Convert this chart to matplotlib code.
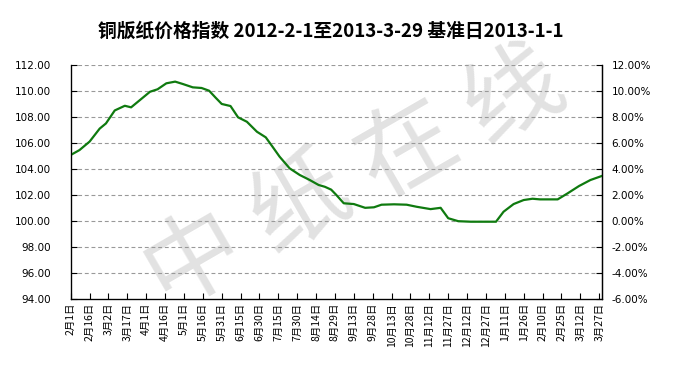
import matplotlib
matplotlib.use("Agg")
import matplotlib.pyplot as plt
import numpy as np

# ---- data ----
title_text = "铜版纸价格指数 2012-2-1至2013-3-29 基准日2013-1-1"
watermark_chars = ["中", "纸", "在", "线"]
# days since 2012-02-01
day_offsets = [0, 7, 15, 23, 28, 35, 43, 48, 55, 63, 69, 76, 83, 89, 97, 104,
               110, 115, 120, 127, 133, 140, 148, 155, 160, 166, 174, 182, 190,
               197, 202, 207, 211, 217, 225, 234, 241, 247, 257, 267, 275, 286,
               294, 300, 308, 318, 338, 344, 352, 360, 367, 373, 387, 395, 404,
               413, 422]
index_values = [105.07, 105.45, 106.1, 107.1, 107.5, 108.5, 108.86, 108.74,
                109.3, 109.94, 110.13, 110.59, 110.72, 110.54, 110.28, 110.23,
                110.02, 109.5, 109.0, 108.84, 107.97, 107.63, 106.86, 106.43,
                105.76, 104.94, 104.04, 103.53, 103.14, 102.76, 102.62, 102.4,
                102.0, 101.35, 101.29, 101.0, 101.04, 101.24, 101.27, 101.24,
                101.08, 100.9, 101.0, 100.2, 99.97, 99.93, 99.93, 100.7, 101.29,
                101.6, 101.7, 101.65, 101.65, 102.12, 102.68, 103.14, 103.45]
x_tick_labels = ["2月1日", "2月16日", "3月2日", "3月17日", "4月1日", "4月16日",
                 "5月1日", "5月16日", "5月31日", "6月15日", "6月30日", "7月15日",
                 "7月30日", "8月14日", "8月29日", "9月13日", "9月28日", "10月13日",
                 "10月28日", "11月12日", "11月27日", "12月12日", "12月27日",
                 "1月11日", "1月26日", "2月10日", "2月25日", "3月12日", "3月27日"]
tick_step_days = 15
left_ticks = [94, 96, 98, 100, 102, 104, 106, 108, 110, 112]
base_value = 100.0

cjk = ['Noto Sans CJK SC', 'DejaVu Sans']

fig = plt.figure(figsize=(6.94, 3.70), dpi=100, facecolor='white')

# watermark, characters spread diagonally
wm_x = np.linspace(0.28, 0.74, len(watermark_chars))
wm_y = np.linspace(0.30, 0.74, len(watermark_chars))
for ch, xx, yy in zip(watermark_chars, wm_x, wm_y):
    fig.text(xx, yy, ch, fontsize=70, color='#e2e2e2', rotation=30,
             ha='center', va='center', family=cjk, fontweight='normal',
             zorder=-5)

ax = fig.add_axes([0.1019, 0.1927, 0.867 - 0.1019, 0.8243 - 0.1927])
ax.set_facecolor('none')

ax.plot(day_offsets, index_values, color='#0f7a0f', lw=1.6, zorder=3)

ax.set_xlim(0, 422)
ax.set_ylim(94, 112)
ax.set_yticks(left_ticks)
ax.set_yticklabels([f"{v:.2f}" for v in left_ticks], fontsize=7.5,
                   family='DejaVu Sans')
for v in left_ticks[1:]:
    ax.axhline(v, color='#999999', lw=0.8, ls=(0, (3.5, 2.5)), zorder=1)

xt = np.arange(0, len(x_tick_labels)) * tick_step_days
ax.set_xticks(xt)
ax.set_xticklabels(x_tick_labels, rotation=90, fontsize=7.5, family=cjk)
ax.tick_params(axis='both', direction='in', length=4, width=0.8, color='black',
               pad=3)
ax.tick_params(axis='y', pad=14)

ax.spines['top'].set_visible(False)
for s in ['left', 'bottom', 'right']:
    ax.spines[s].set_color('black')
    ax.spines[s].set_linewidth(0.9)

ax2 = ax.twinx()
ax2.set_ylim(94 - base_value, 112 - base_value)
rt = [v - base_value for v in left_ticks]
ax2.set_yticks(rt)
ax2.set_yticklabels([f"{v:.2f}%" for v in rt], fontsize=7.5,
                    family='DejaVu Sans')
ax2.tick_params(axis='y', direction='in', length=4, width=0.8, pad=7)
ax2.spines['top'].set_visible(False)
ax2.spines['right'].set_linewidth(0.9)

fig.text(0.477, 0.916, title_text, fontsize=13.5, fontweight='bold',
         family=cjk, ha='center', va='center')

fig.savefig("out.png", dpi=100)
